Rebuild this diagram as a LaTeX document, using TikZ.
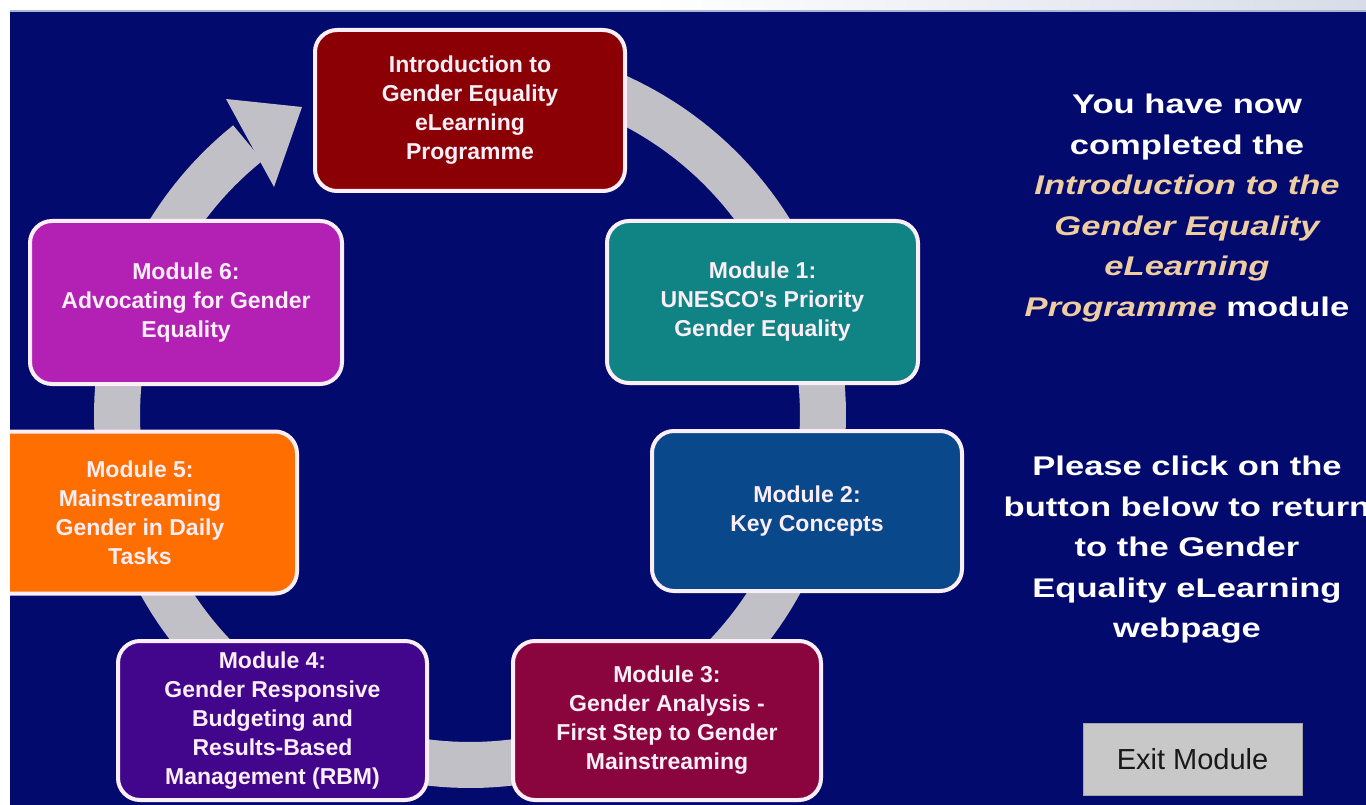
\documentclass[tikz,border=0pt]{standalone}
\usepackage{fontspec}
\setmainfont{Liberation Sans}
\newfontfamily\widefont{Liberation Sans}[FakeStretch=1.28]
\definecolor{navy}{RGB}{3,10,110}
\definecolor{ringgray}{RGB}{192,192,198}
\definecolor{cIntro}{RGB}{138,0,4}
\definecolor{cOne}{RGB}{16,132,132}
\definecolor{cTwo}{RGB}{10,72,140}
\definecolor{cThree}{RGB}{138,4,62}
\definecolor{cFour}{RGB}{66,6,140}
\definecolor{cFive}{RGB}{255,110,0}
\definecolor{cSix}{RGB}{178,32,180}
\definecolor{boxtext}{RGB}{252,238,246}
\definecolor{tanhl}{RGB}{238,205,160}
\definecolor{btnfill}{RGB}{200,200,200}
\definecolor{topline}{RGB}{170,180,215}
\definecolor{topimg}{RGB}{215,220,232}
\begin{document}
\begin{tikzpicture}[x=1pt,y=-1pt,
  box/.style={draw=boxtext, line width=4pt, rounded corners=22pt, inner sep=0pt,
    align=center, text=boxtext, font=\fontsize{23pt}{29pt}\selectfont\bfseries},
  ring/.style={draw=ringgray, line width=46pt, line cap=butt},
  bigtext/.style={text=white, align=center, inner sep=0pt,
    font=\widefont\fontsize{27pt}{40.5pt}\selectfont\bfseries}]
\useasboundingbox (0,0) rectangle (1366,805);
% background
\fill[white] (0,0) rectangle (1366,805);
\fill[navy] (10,12) rectangle (1366,805);
% ring with arrow
\draw[ring] plot[domain=-231:100, samples=200] ({470+353*cos(\x)},{415-350*sin(\x)});
\fill[ringgray] (226,99) -- (302,107) -- (274,187) -- cycle;
% boxes
\node[box, fill=cIntro, minimum width=310pt, minimum height=161pt] (intro) at (470,110.5)
  {Introduction to\\Gender Equality\\eLearning\\Programme};
\node[box, fill=cOne, minimum width=311pt, minimum height=162pt] (m1) at (762.5,302)
  {Module 1:\\UNESCO\textquotesingle s Priority\\Gender Equality};
\node[box, fill=cTwo, minimum width=310pt, minimum height=160pt] (m2) at (807,511)
  {Module 2:\\Key Concepts};
\node[box, fill=cThree, minimum width=308pt, minimum height=159pt] (m3) at (667,720.5)
  {Module 3:\\Gender Analysis -\\First Step to Gender\\Mainstreaming};
\node[box, fill=cFour, minimum width=309pt, minimum height=159pt] (m4) at (272.5,720.5)
  {Module 4:\\Gender Responsive\\Budgeting and\\Results-Based\\Management (RBM)};
\node[box, fill=cFive, minimum width=314pt, minimum height=162pt] (m5) at (140,512.5)
  {Module 5:\\Mainstreaming\\Gender in Daily\\Tasks};
\node[box, fill=cSix, minimum width=312pt, minimum height=163pt] (m6) at (186,302.5)
  {Module 6:\\Advocating for Gender\\Equality};
% right texts
\node[bigtext] (done) at (1187,208)
  {You have now\\completed the\\{\color{tanhl}\itshape Introduction to the}\\{\color{tanhl}\itshape Gender Equality}\\{\color{tanhl}\itshape eLearning}\\{\color{tanhl}\itshape Programme} module};
\node[bigtext] (please) at (1187,550)
  {Please click on the\\button below to return\\to the Gender\\Equality eLearning\\webpage};
\node[draw=gray!70, line width=1pt, fill=btnfill, minimum width=219pt, minimum height=72pt,
  inner sep=0pt, font=\fontsize{29pt}{34pt}\selectfont, text=black!90] (exit) at (1192.5,759) {Exit Module};
% frame strips
\fill[white] (0,0) rectangle (10,805);
\fill[white] (0,0) rectangle (1366,10);
\shade[left color=white, right color=topimg] (650,0) rectangle (1366,10);
\draw[topline, line width=1.5pt] (10,11) -- (1366,11);
\end{tikzpicture}
\end{document}
